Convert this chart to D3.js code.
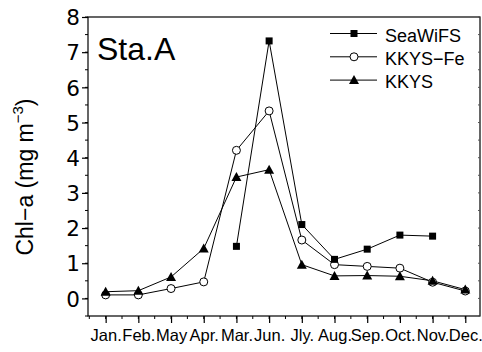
<!DOCTYPE html>
<html lang="en">
<head>
    <meta charset="UTF-8">
    <title>Sta.A</title>
    <script src="https://d3js.org/d3.v7.min.js" charset="utf-8"></script>
    <style>
        body { margin: 0; background: #fff; }
        text { font-family: "Liberation Sans", Arial, sans-serif; fill: #000; }
    </style>
</head>
<body>
<script>
    // data
    var months = ["Jan.", "Feb.", "May", "Apr.", "Mar.", "Jun.", "Jly.", "Aug.", "Sep.", "Oct.", "Nov.", "Dec."];
    var seawifs = [null, null, null, null, 1.48, 7.32, 2.10, 1.11, 1.40, 1.80, 1.77, null];
    var kkysFe = [0.10, 0.10, 0.28, 0.47, 4.21, 5.33, 1.66, 0.96, 0.91, 0.86, 0.46, 0.21];
    var kkys = [0.19, 0.22, 0.61, 1.42, 3.45, 3.66, 0.96, 0.64, 0.65, 0.63, 0.50, 0.25];
    var yTicks = [0, 1, 2, 3, 4, 5, 6, 7, 8];

    var margin = {top: 17, right: 2, bottom: 36, left: 88},
        width = 482 - margin.left - margin.right,
        height = 352 - margin.top - margin.bottom;

    var x = d3.scaleLinear().domain([0.46, 12.45]).range([0, width]);
    var y = d3.scaleLinear().domain([-0.5, 8]).range([height, 0]);

    var svg = d3.select("body").append("svg")
        .attr("width", 482)
        .attr("height", 352)
        .append("g")
        .attr("transform", "translate(" + margin.left + "," + margin.top + ")");

    // frame
    svg.append("rect")
        .attr("width", width).attr("height", height)
        .attr("fill", "none").attr("stroke", "#000").attr("stroke-width", 1.2);

    // minor ticks
    var yMinor = d3.range(-0.5, 8.01, 0.5);
    var xMinor = d3.range(0.5, 12.46, 0.5);
    svg.append("g").selectAll("line").data(yMinor).enter().append("line")
        .attr("x1", -3).attr("x2", 0)
        .attr("y1", function(d) { return y(d); }).attr("y2", function(d) { return y(d); })
        .attr("stroke", "#000");
    svg.append("g").selectAll("line").data(yMinor).enter().append("line")
        .attr("x1", width - 2).attr("x2", width)
        .attr("y1", function(d) { return y(d); }).attr("y2", function(d) { return y(d); })
        .attr("stroke", "#555");
    svg.append("g").selectAll("line").data(xMinor).enter().append("line")
        .attr("y1", height).attr("y2", height + 3)
        .attr("x1", function(d) { return x(d); }).attr("x2", function(d) { return x(d); })
        .attr("stroke", "#000");

    // X axis
    var xAxis = svg.append("g")
        .attr("transform", "translate(0," + height + ")")
        .call(d3.axisBottom(x).tickValues(d3.range(1, 13))
            .tickFormat(function(d) { return months[d - 1]; })
            .tickSize(7).tickPadding(6));
    xAxis.select(".domain").remove();
    xAxis.selectAll("text").style("font-size", "16.5px").attr("font-family", null);
    xAxis.selectAll("line").attr("stroke-width", 1.2);

    // Y axis
    var yAxis = svg.append("g")
        .call(d3.axisLeft(y).tickValues(yTicks).tickSize(6).tickPadding(2));
    yAxis.select(".domain").remove();
    yAxis.selectAll("text")
        .style("font-size", "21.5px")
        .style("font-family", "'DejaVu Sans', sans-serif")
        .attr("font-family", null).attr("dy", "0.36em");
    yAxis.selectAll("line").attr("stroke-width", 1.2);

    // y label
    var yl = svg.append("text")
        .attr("transform", "translate(" + (33 - margin.left) + "," + (177 - margin.top) + ") rotate(-90)")
        .style("text-anchor", "middle")
        .style("font-size", "23px");
    yl.append("tspan").text("Chl\u2212a (mg m");
    yl.append("tspan").attr("dy", -10).style("font-size", "15px").text("\u22123");
    yl.append("tspan").attr("dy", 10).text(")");

    // station label
    svg.append("text")
        .attr("x", 97 - margin.left).attr("y", 60 - margin.top)
        .style("font-size", "32px")
        .text("Sta.A");

    var line = d3.line()
        .defined(function(d) { return d != null; })
        .x(function(d, i) { return x(i + 1); })
        .y(function(d) { return y(d); });

    function drawLine(vals) {
        svg.append("path").datum(vals)
            .attr("fill", "none").attr("stroke", "#000").attr("stroke-width", 1)
            .attr("d", line);
    }

    function marker(g, type) {
        if (type === "square") {
            g.append("rect").attr("x", -3.5).attr("y", -3.5).attr("width", 7).attr("height", 7).attr("fill", "#000");
        } else if (type === "circle") {
            g.append("circle").attr("r", 4).attr("fill", "#fff").attr("stroke", "#000").attr("stroke-width", 1);
        } else {
            g.append("path").attr("d", "M0,-5L5,4L-5,4Z").attr("fill", "#000");
        }
    }

    function drawMarkers(vals, type) {
        vals.forEach(function(v, i) {
            if (v == null) return;
            var g = svg.append("g").attr("transform", "translate(" + x(i + 1) + "," + y(v) + ")");
            marker(g, type);
        });
    }

    var series = [
        {name: "KKYS\u2212Fe", vals: kkysFe, type: "circle"},
        {name: "KKYS", vals: kkys, type: "triangle"},
        {name: "SeaWiFS", vals: seawifs, type: "square"}
    ];
    series.forEach(function(s) { drawLine(s.vals); });
    series.forEach(function(s) { drawMarkers(s.vals, s.type); });

    // legend
    var legendOrder = [series[2], series[0], series[1]];
    legendOrder.forEach(function(s, i) {
        var ly = 33.5 + i * 23.3 - margin.top;
        var g = svg.append("g").attr("transform", "translate(" + (330 - margin.left) + "," + ly + ")");
        g.append("line").attr("x1", 0).attr("x2", 47).attr("stroke", "#000");
        var m = g.append("g").attr("transform", "translate(24,0)");
        marker(m, s.type);
        g.append("text").attr("x", 55).attr("y", 8.3).style("font-size", "18px").text(s.name);
    });
</script>
</body>
</html>
